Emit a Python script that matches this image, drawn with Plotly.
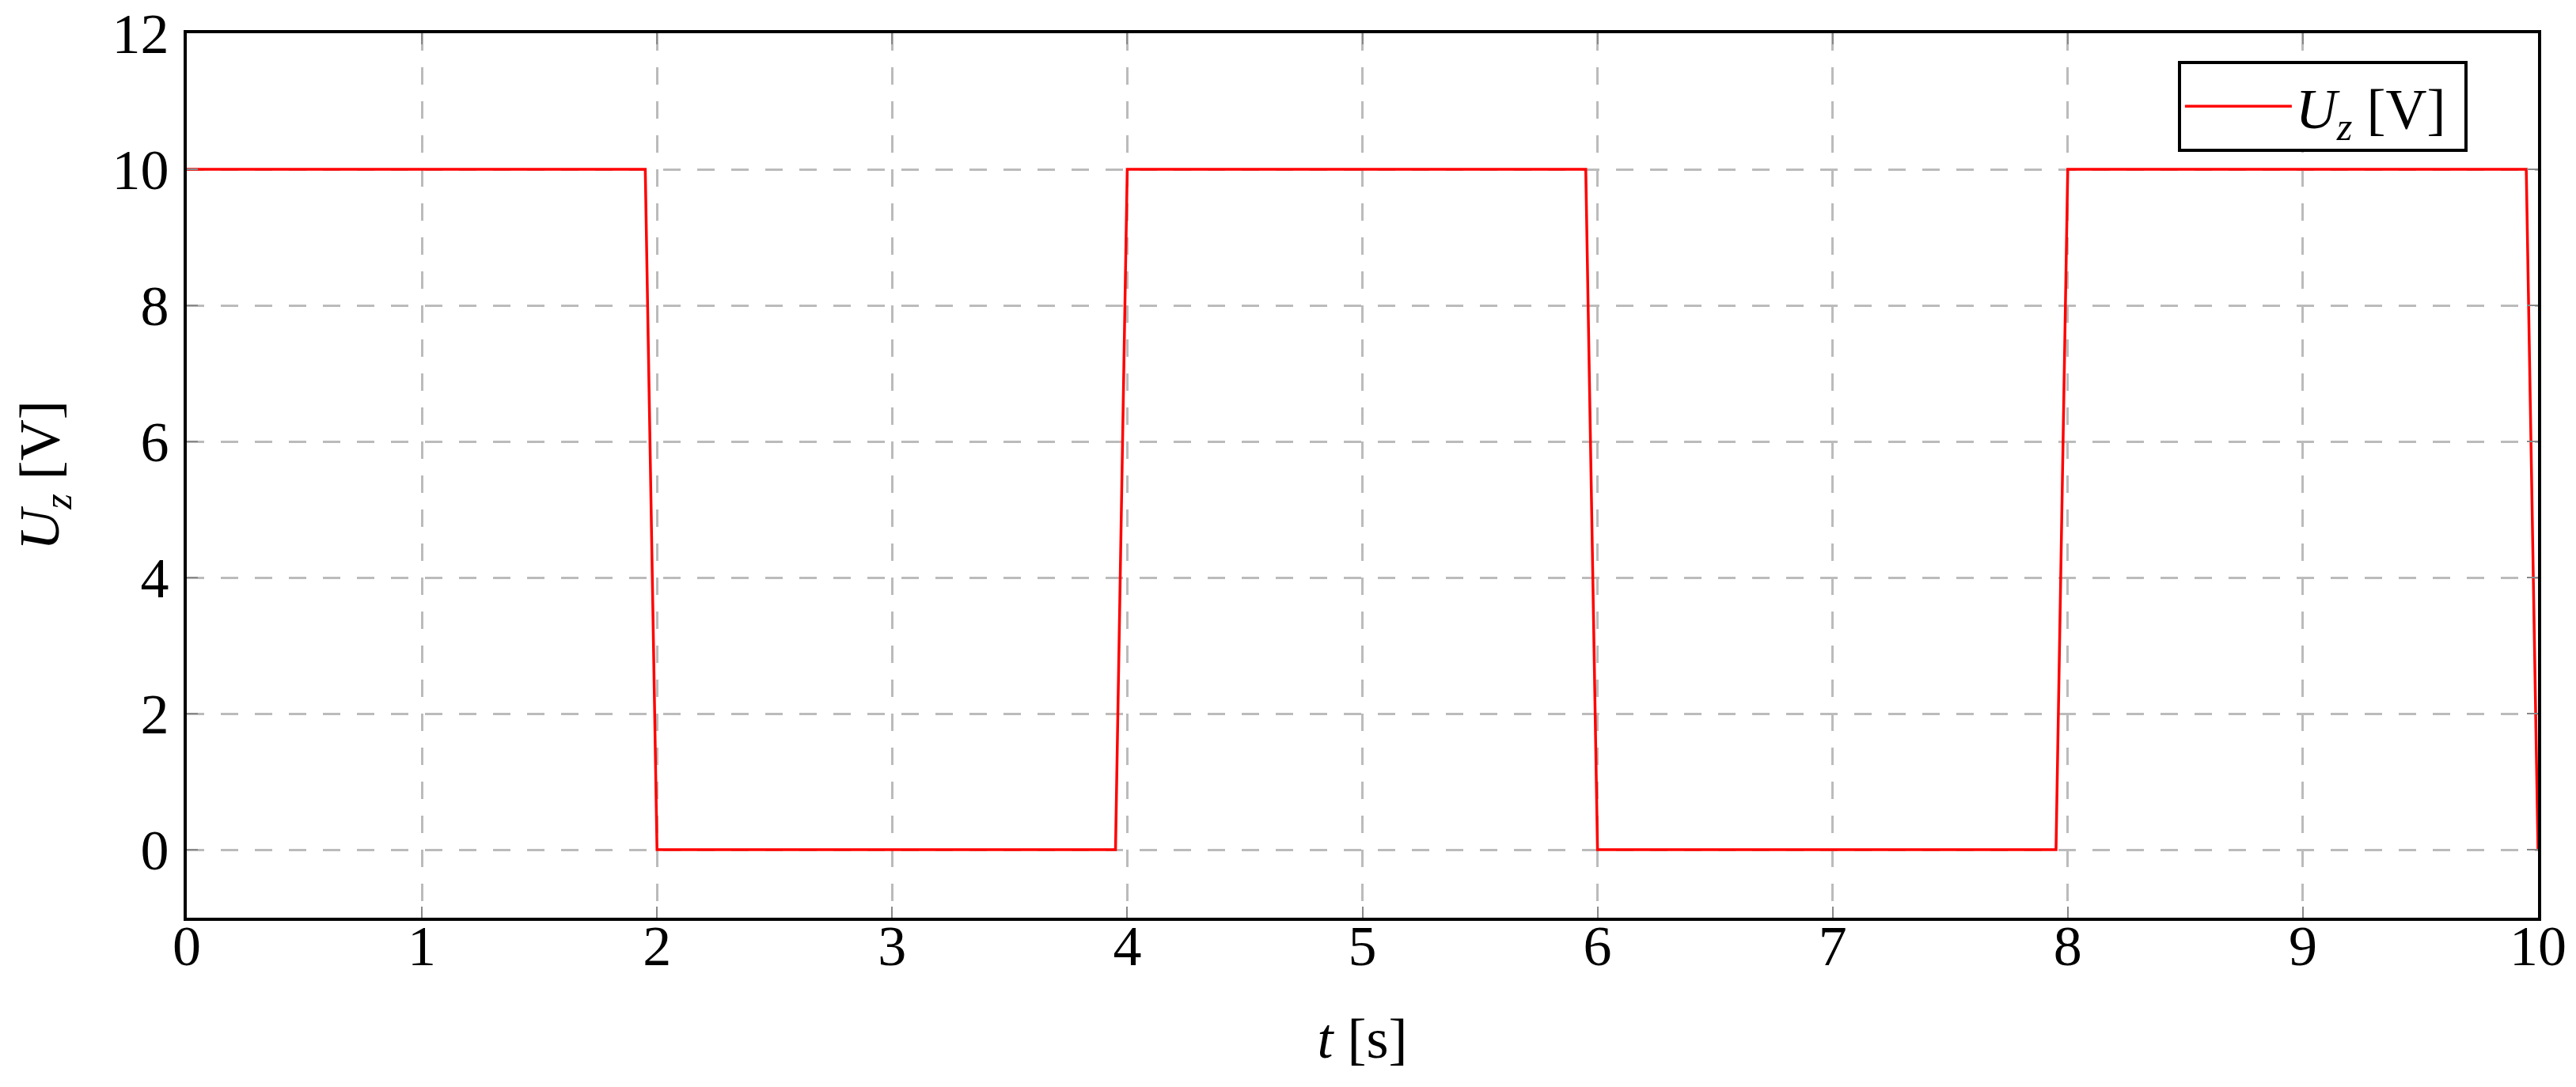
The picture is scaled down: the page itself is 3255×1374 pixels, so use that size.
import plotly.graph_objects as go

# 시간 [s] / 전압 [V] (사각파)
t_values = [0, 1.95, 2, 3.95, 4, 5.95, 6, 7.95, 8, 9.95, 10]
u_values = [10, 10, 0, 0, 10, 10, 0, 0, 10, 10, 0]

x_ticks = list(range(0, 11))
y_ticks = [0, 2, 4, 6, 8, 10, 12]

FONT = 'Liberation Serif'
FS = 72

fig = go.Figure()

fig.add_trace(go.Scatter(
    x=t_values,
    y=u_values,
    mode='lines',
    name='<i>U</i><sub><i>z</i></sub> [V] ',
    line=dict(color='#ff0000', width=3.5)
))

axis_common = dict(
    showline=True,
    linecolor='black',
    linewidth=4,
    mirror='ticks',
    ticks='inside',
    ticklen=14,
    tickwidth=2,
    tickcolor='#888888',
    showgrid=True,
    gridcolor='#bbbbbb',
    gridwidth=3,
    griddash='22px,21px',
    zeroline=False,
    automargin=False,
    ticklabeloverflow='allow',
    tickfont=dict(family=FONT, size=FS, color='black'),
)

fig.update_xaxes(
    range=[0, 10],
    tickvals=x_ticks,
    ticklabelstandoff=-30,
    title=dict(text='<i>t</i> [s]', font=dict(family=FONT, size=FS, color='black'), standoff=52),
    **axis_common
)
fig.update_yaxes(
    range=[-1, 12],
    tickvals=y_ticks,
    ticklabelstandoff=4,
    title=dict(text='<i>U</i><sub><i>z</i></sub> [V]', font=dict(family=FONT, size=FS, color='black'), standoff=44),
    **axis_common
)

# 페이지 body 여백(8px)을 감안한 크기/여백
fig.update_layout(
    width=3247,
    height=1366,
    margin=dict(l=228, r=48, t=34, b=214),
    plot_bgcolor='white',
    paper_bgcolor='white',
    showlegend=True,
    legend=dict(
        x=0.970, y=0.9687, xanchor='right', yanchor='top',
        bgcolor='white',
        bordercolor='black',
        borderwidth=4,
        itemwidth=135,
        font=dict(family=FONT, size=FS, color='black'),
    ),
)

fig.write_html('out.html')
